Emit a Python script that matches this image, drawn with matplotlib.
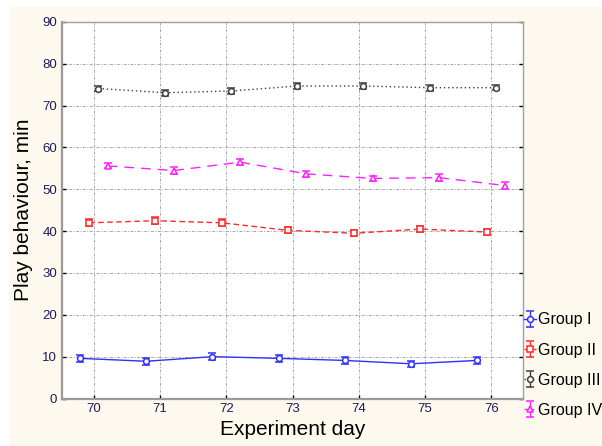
import numpy as np
import matplotlib.pyplot as plt
from matplotlib.patches import Rectangle

# Data
days = [70, 71, 72, 73, 74, 75, 76]
groups = ["Group I", "Group II", "Group III", "Group IV"]
group1 = [9.6, 8.9, 10.0, 9.6, 9.1, 8.3, 9.1]
group2 = [42.0, 42.5, 42.0, 40.2, 39.5, 40.5, 39.8]
group3 = [74.1, 73.1, 73.5, 74.7, 74.7, 74.3, 74.3]
group4 = [55.6, 54.5, 56.5, 53.7, 52.6, 52.8, 50.9]
err1 = [0.8, 0.8, 0.8, 0.8, 0.8, 0.7, 0.8]
err2 = [0.8, 0.8, 0.8, 0.7, 0.7, 0.8, 0.6]
err3 = [0.7, 0.7, 0.7, 0.8, 0.8, 0.7, 0.6]
err4 = [0.6, 0.8, 0.8, 0.7, 0.7, 0.8, 0.9]

values = [group1, group2, group3, group4]
errors = [err1, err2, err3, err4]

# styling per group
offsets = [-0.21, -0.07, 0.07, 0.21]
colors = ["#2f2fff", "#ff2a2a", "#404040", "#ff20ff"]
linestyles = ["-", (0, (4, 2.5)), (0, (1, 2)), (0, (7, 5))]
markers = ["o", "s", "o", "^"]

fig = plt.figure(figsize=(6.02, 4.46), dpi=100)
fig.patch.set_facecolor("white")
fig.patches.append(Rectangle((9 / 602, 0), 1, 1 - 7 / 446, transform=fig.transFigure,
                             facecolor="#fef9ee", edgecolor="none", zorder=-10))

ax = fig.add_axes([62 / 602, 1 - 398.5 / 446, (523 - 62) / 602, (398.5 - 22) / 446])
ax.set_facecolor("white")

x = np.array(days, dtype=float)
for i in range(len(groups)):
    ax.errorbar(x + offsets[i], values[i], yerr=errors[i], color=colors[i],
                linestyle=linestyles[i], linewidth=1.0, marker=markers[i],
                markersize=4.2, markerfacecolor="white", markeredgecolor=colors[i],
                markeredgewidth=1.1, capsize=3, elinewidth=1.0, capthick=1.2,
                label=groups[i])

ax.set_xlim(69.52, 76.48)
ax.set_ylim(0, 90)
ax.set_xticks(days)
ax.set_yticks(np.arange(0, 91, 10))
ax.grid(True, color="#a8a8a8", linestyle=(0, (3, 1.5, 1, 1.5)), linewidth=0.7)
ax.set_axisbelow(True)
ax.tick_params(direction="in", length=3, width=1, colors="black", labelcolor="#1c1c5a",
               labelsize=9.5, top=False, right=True)
for lab in ax.get_xticklabels() + ax.get_yticklabels():
    lab.set_family("Liberation Sans")

for side in ["left", "bottom"]:
    ax.spines[side].set_color("#9a9a9a")
    ax.spines[side].set_linewidth(1.6)
for side in ["top", "right"]:
    ax.spines[side].set_color("#a0a0a0")
    ax.spines[side].set_linewidth(1.0)

ax.set_xlabel("Experiment day", fontsize=15, family="Liberation Sans", labelpad=3)
ax.set_ylabel("Play behaviour, min", fontsize=15, family="Liberation Sans", labelpad=7)

fig.legend(loc="upper left", bbox_to_anchor=(518 / 602, 1 - 306 / 446), frameon=False,
           prop={"family": "Liberation Sans", "size": 11.5}, handlelength=0.7,
           handletextpad=0.15, labelspacing=0.95, borderaxespad=0)

fig.savefig("out.png", dpi=100)
